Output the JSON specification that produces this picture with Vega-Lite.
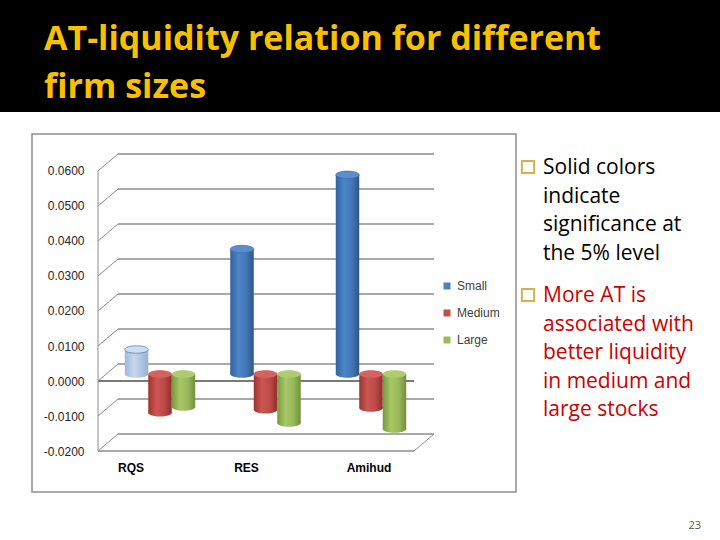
{
  "$schema": "https://vega.github.io/schema/vega-lite/v6.json",
  "background": "#ffffff",
  "padding": 0,
  "spacing": 21,
  "config": {"view": {"stroke": null}, "concat": {"spacing": 0}},
  "vconcat": [
    {
      "width": 720,
      "height": 112,
      "view": {"fill": "#000000", "stroke": null},
      "data": {"values": [{"title": "AT-liquidity relation for different\nfirm sizes"}]},
      "mark": {"type": "text", "align": "left", "baseline": "alphabetic", "lineBreak": "\n", "lineHeight": 48, "font": "Open Sans", "fontWeight": "bold", "fontSize": 34, "color": "#F8C000"},
      "encoding": {
        "text": {"field": "title"},
        "x": {"datum": 44, "type": "quantitative", "scale": {"domain": [0, 720], "nice": false, "zero": false}, "axis": null},
        "y": {"datum": 49.5, "type": "quantitative", "scale": {"domain": [0, 112], "nice": false, "zero": false, "reverse": true}, "axis": null}
      }
    },
    {
      "spacing": 0,
      "hconcat": [
        {
          "width": 31,
          "height": 358,
          "data": {"values": [{"blank": ""}]},
          "mark": {"type": "text"},
          "encoding": {"text": {"field": "blank"}}
        },
        {
          "width": 484,
          "height": 358,
          "view": {"stroke": "#8f8f8f", "strokeWidth": 1.5},
          "data": {"values": [
            {"measure": "RQS", "size": "Small", "value": 0.0070, "significant": false},
            {"measure": "RQS", "size": "Medium", "value": -0.0111, "significant": true},
            {"measure": "RQS", "size": "Large", "value": -0.0094, "significant": true},
            {"measure": "RES", "size": "Small", "value": 0.0357, "significant": true},
            {"measure": "RES", "size": "Medium", "value": -0.0102, "significant": true},
            {"measure": "RES", "size": "Large", "value": -0.0140, "significant": true},
            {"measure": "Amihud", "size": "Small", "value": 0.0569, "significant": true},
            {"measure": "Amihud", "size": "Medium", "value": -0.0097, "significant": true},
            {"measure": "Amihud", "size": "Large", "value": -0.0157, "significant": true}
          ]},
          "layer": [
            {
              "data": {"values": [
                {"tick": -0.02}, {"tick": -0.01}, {"tick": 0}, {"tick": 0.01}, {"tick": 0.02},
                {"tick": 0.03}, {"tick": 0.04}, {"tick": 0.05}, {"tick": 0.06}
              ]},
              "layer": [
                {
                  "mark": {"type": "rule", "yOffset": -17, "color": "#8c8c8c", "strokeWidth": 1.5},
                  "encoding": {
                    "x": {"datum": 0.063291, "type": "quantitative", "scale": {"domain": [-0.208861, 1.322785], "nice": false, "zero": false}, "axis": null},
                    "x2": {"datum": 1.063291},
                    "y": {"field": "tick", "type": "quantitative", "scale": {"domain": [-0.031714, 0.070571], "nice": false, "zero": false},
                      "axis": {"orient": "left", "offset": -52, "values": [-0.02, -0.01, 0, 0.01, 0.02, 0.03, 0.04, 0.05, 0.06], "format": ".4f", "labelExpr": "replace(datum.label, '\u2212', '-')", "domain": false, "ticks": false, "tickSize": 0, "labelPadding": 0, "grid": false, "title": null, "labelFont": "Liberation Sans", "labelFontSize": 12, "labelColor": "#262626"}}
                  }
                },
                {
                  "mark": {"type": "rule", "y2Offset": -17, "color": "#8c8c8c", "strokeWidth": 1},
                  "encoding": {
                    "x": {"datum": 0, "type": "quantitative", "axis": null},
                    "x2": {"datum": 0.063291},
                    "y": {"field": "tick", "type": "quantitative",
                      "axis": {"orient": "left", "offset": -52, "values": [-0.02, -0.01, 0, 0.01, 0.02, 0.03, 0.04, 0.05, 0.06], "format": ".4f", "labelExpr": "replace(datum.label, '\u2212', '-')", "domain": false, "ticks": false, "tickSize": 0, "labelPadding": 0, "grid": false, "title": null, "labelFont": "Liberation Sans", "labelFontSize": 12, "labelColor": "#262626"}},
                    "y2": {"field": "tick"}
                  }
                },
                {
                  "transform": [{"filter": "datum.tick === 0"}],
                  "mark": {"type": "rule", "color": "#7a7a7a", "strokeWidth": 2},
                  "encoding": {
                    "x": {"datum": 0, "type": "quantitative", "axis": null},
                    "x2": {"datum": 1},
                    "y": {"field": "tick", "type": "quantitative",
                      "axis": {"orient": "left", "offset": -52, "values": [-0.02, -0.01, 0, 0.01, 0.02, 0.03, 0.04, 0.05, 0.06], "format": ".4f", "labelExpr": "replace(datum.label, '\u2212', '-')", "domain": false, "ticks": false, "tickSize": 0, "labelPadding": 0, "grid": false, "title": null, "labelFont": "Liberation Sans", "labelFontSize": 12, "labelColor": "#262626"}}
                  }
                },
                {
                  "transform": [{"filter": "datum.tick === -0.02"}],
                  "mark": {"type": "rule", "color": "#8c8c8c", "strokeWidth": 1.5},
                  "encoding": {
                    "x": {"datum": 0, "type": "quantitative", "axis": null},
                    "x2": {"datum": 1},
                    "y": {"field": "tick", "type": "quantitative",
                      "axis": {"orient": "left", "offset": -52, "values": [-0.02, -0.01, 0, 0.01, 0.02, 0.03, 0.04, 0.05, 0.06], "format": ".4f", "labelExpr": "replace(datum.label, '\u2212', '-')", "domain": false, "ticks": false, "tickSize": 0, "labelPadding": 0, "grid": false, "title": null, "labelFont": "Liberation Sans", "labelFontSize": 12, "labelColor": "#262626"}}
                  }
                },
                {
                  "transform": [{"filter": "datum.tick === -0.02"}],
                  "mark": {"type": "rule", "color": "#8c8c8c", "strokeWidth": 1},
                  "encoding": {
                    "x": {"datum": 0, "type": "quantitative", "axis": null},
                    "y": {"field": "tick", "type": "quantitative",
                      "axis": {"orient": "left", "offset": -52, "values": [-0.02, -0.01, 0, 0.01, 0.02, 0.03, 0.04, 0.05, 0.06], "format": ".4f", "labelExpr": "replace(datum.label, '\u2212', '-')", "domain": false, "ticks": false, "tickSize": 0, "labelPadding": 0, "grid": false, "title": null, "labelFont": "Liberation Sans", "labelFontSize": 12, "labelColor": "#262626"}},
                    "y2": {"datum": 0.06}
                  }
                },
                {
                  "transform": [{"filter": "datum.tick === -0.02"}],
                  "mark": {"type": "rule", "y2Offset": -17, "color": "#8c8c8c", "strokeWidth": 1},
                  "encoding": {
                    "x": {"datum": 1, "type": "quantitative", "axis": null},
                    "x2": {"datum": 1.063291},
                    "y": {"field": "tick", "type": "quantitative",
                      "axis": {"orient": "left", "offset": -52, "values": [-0.02, -0.01, 0, 0.01, 0.02, 0.03, 0.04, 0.05, 0.06], "format": ".4f", "labelExpr": "replace(datum.label, '\u2212', '-')", "domain": false, "ticks": false, "tickSize": 0, "labelPadding": 0, "grid": false, "title": null, "labelFont": "Liberation Sans", "labelFontSize": 12, "labelColor": "#262626"}},
                    "y2": {"field": "tick"}
                  }
                }
              ]
            },
            {
              "encoding": {
                "x": {
                  "field": "measure", "type": "nominal",
                  "scale": {"domain": ["RQS", "RES", "Amihud"], "paddingInner": 0.332, "paddingOuter": 0.96, "align": 0.458},
                  "axis": {
                    "orient": "bottom", "offset": -30, "domain": false, "ticks": false, "tickSize": 0, "labelPadding": 0,
                    "title": null, "labelAngle": 0, "labelFont": "Liberation Sans", "labelFontWeight": "bold", "labelFontSize": 12, "labelColor": "#000000",
                    "labelOffset": {"condition": [{"test": "datum.value === 'RQS'", "value": -29}, {"test": "datum.value === 'RES'", "value": -19}], "value": -2}
                  }
                },
                "xOffset": {"field": "size", "type": "nominal", "scale": {"domain": ["Small", "Medium", "Large"], "paddingInner": 0, "paddingOuter": 0}}
              },
              "layer": [
                {
                  "mark": {"type": "bar", "yOffset": -7, "y2Offset": -7},
                  "encoding": {
                    "y": {
                      "field": "value", "type": "quantitative",
                      "scale": {"domain": [-0.031714, 0.070571], "nice": false, "zero": false},
                      "axis": {"orient": "left", "offset": -52, "values": [-0.02, -0.01, 0, 0.01, 0.02, 0.03, 0.04, 0.05, 0.06], "format": ".4f", "labelExpr": "replace(datum.label, '\u2212', '-')", "domain": false, "ticks": false, "tickSize": 0, "labelPadding": 0, "grid": false, "title": null, "labelFont": "Liberation Sans", "labelFontSize": 12, "labelColor": "#262626"}
                    },
                    "y2": {"datum": 0},
                    "color": {
                      "condition": [
                        {"test": "!datum.significant", "value": {"gradient": "linear", "x1": 0, "y1": 0, "x2": 1, "y2": 0, "stops": [{"offset": 0, "color": "#9fb8d8"}, {"offset": 0.4, "color": "#c6d7ec"}, {"offset": 1, "color": "#98b1d1"}]}},
                        {"test": "datum.size === 'Small'", "value": {"gradient": "linear", "x1": 0, "y1": 0, "x2": 1, "y2": 0, "stops": [{"offset": 0, "color": "#33629b"}, {"offset": 0.35, "color": "#4d86c8"}, {"offset": 0.7, "color": "#4275b4"}, {"offset": 1, "color": "#2c5788"}]}},
                        {"test": "datum.size === 'Medium'", "value": {"gradient": "linear", "x1": 0, "y1": 0, "x2": 1, "y2": 0, "stops": [{"offset": 0, "color": "#9a3532"}, {"offset": 0.35, "color": "#cc5552"}, {"offset": 0.7, "color": "#bb4a47"}, {"offset": 1, "color": "#8f2e2b"}]}}
                      ],
                      "value": {"gradient": "linear", "x1": 0, "y1": 0, "x2": 1, "y2": 0, "stops": [{"offset": 0, "color": "#7a9640"}, {"offset": 0.35, "color": "#a7c866"}, {"offset": 0.7, "color": "#98b75a"}, {"offset": 1, "color": "#728f3a"}]}
                    }
                  }
                },
                {
                  "transform": [{"filter": "datum.value < 0"}],
                  "mark": {"type": "point", "filled": true, "opacity": 1, "strokeWidth": 0, "size": 552, "yOffset": -7, "shape": "M-1,0A1,0.32,0,1,0,1,0A1,0.32,0,1,0,-1,0Z"},
                  "encoding": {
                    "y": {"field": "value", "type": "quantitative", "scale": {"domain": [-0.031714, 0.070571], "nice": false, "zero": false},
                      "axis": {"orient": "left", "offset": -52, "values": [-0.02, -0.01, 0, 0.01, 0.02, 0.03, 0.04, 0.05, 0.06], "format": ".4f", "labelExpr": "replace(datum.label, '\u2212', '-')", "domain": false, "ticks": false, "tickSize": 0, "labelPadding": 0, "grid": false, "title": null, "labelFont": "Liberation Sans", "labelFontSize": 12, "labelColor": "#262626"}},
                    "color": {
                      "condition": [
                        {"test": "datum.size === 'Medium'", "value": {"gradient": "linear", "x1": 0, "y1": 0, "x2": 1, "y2": 0, "stops": [{"offset": 0, "color": "#9a3532"}, {"offset": 0.35, "color": "#cc5552"}, {"offset": 0.7, "color": "#bb4a47"}, {"offset": 1, "color": "#8f2e2b"}]}}
                      ],
                      "value": {"gradient": "linear", "x1": 0, "y1": 0, "x2": 1, "y2": 0, "stops": [{"offset": 0, "color": "#7a9640"}, {"offset": 0.35, "color": "#a7c866"}, {"offset": 0.7, "color": "#98b75a"}, {"offset": 1, "color": "#728f3a"}]}
                    }
                  }
                },
                {
                  "transform": [{"filter": "datum.value > 0"}],
                  "mark": {"type": "point", "filled": true, "opacity": 1, "strokeWidth": 0, "size": 552, "yOffset": -7, "shape": "M-1,0A1,0.32,0,1,0,1,0A1,0.32,0,1,0,-1,0Z"},
                  "encoding": {
                    "y": {"datum": 0, "type": "quantitative", "scale": {"domain": [-0.031714, 0.070571], "nice": false, "zero": false},
                      "axis": {"orient": "left", "offset": -52, "values": [-0.02, -0.01, 0, 0.01, 0.02, 0.03, 0.04, 0.05, 0.06], "format": ".4f", "labelExpr": "replace(datum.label, '\u2212', '-')", "domain": false, "ticks": false, "tickSize": 0, "labelPadding": 0, "grid": false, "title": null, "labelFont": "Liberation Sans", "labelFontSize": 12, "labelColor": "#262626"}},
                    "color": {
                      "condition": [
                        {"test": "!datum.significant", "value": {"gradient": "linear", "x1": 0, "y1": 0, "x2": 1, "y2": 0, "stops": [{"offset": 0, "color": "#9fb8d8"}, {"offset": 0.4, "color": "#c6d7ec"}, {"offset": 1, "color": "#98b1d1"}]}}
                      ],
                      "value": {"gradient": "linear", "x1": 0, "y1": 0, "x2": 1, "y2": 0, "stops": [{"offset": 0, "color": "#33629b"}, {"offset": 0.35, "color": "#4d86c8"}, {"offset": 0.7, "color": "#4275b4"}, {"offset": 1, "color": "#2c5788"}]}
                    }
                  }
                },
                {
                  "transform": [{"filter": "datum.value > 0"}],
                  "mark": {"type": "point", "filled": true, "opacity": 1, "stroke": "#3a6aa6", "strokeWidth": 0.6, "size": 552, "yOffset": -7, "shape": "M-1,0A1,0.32,0,1,0,1,0A1,0.32,0,1,0,-1,0Z"},
                  "encoding": {
                    "y": {"field": "value", "type": "quantitative", "scale": {"domain": [-0.031714, 0.070571], "nice": false, "zero": false},
                      "axis": {"orient": "left", "offset": -52, "values": [-0.02, -0.01, 0, 0.01, 0.02, 0.03, 0.04, 0.05, 0.06], "format": ".4f", "labelExpr": "replace(datum.label, '\u2212', '-')", "domain": false, "ticks": false, "tickSize": 0, "labelPadding": 0, "grid": false, "title": null, "labelFont": "Liberation Sans", "labelFontSize": 12, "labelColor": "#262626"}},
                    "color": {"condition": {"test": "!datum.significant", "value": "#cddcee"}, "value": "#5a8dcb"}
                  }
                },
                {
                  "transform": [{"filter": "datum.value < 0"}],
                  "mark": {"type": "point", "filled": true, "opacity": 1, "strokeWidth": 0, "size": 552, "yOffset": -7, "shape": "M-1,0A1,0.32,0,1,0,1,0A1,0.32,0,1,0,-1,0Z"},
                  "encoding": {
                    "y": {"datum": 0, "type": "quantitative", "scale": {"domain": [-0.031714, 0.070571], "nice": false, "zero": false},
                      "axis": {"orient": "left", "offset": -52, "values": [-0.02, -0.01, 0, 0.01, 0.02, 0.03, 0.04, 0.05, 0.06], "format": ".4f", "labelExpr": "replace(datum.label, '\u2212', '-')", "domain": false, "ticks": false, "tickSize": 0, "labelPadding": 0, "grid": false, "title": null, "labelFont": "Liberation Sans", "labelFontSize": 12, "labelColor": "#262626"}},
                    "color": {"condition": {"test": "datum.size === 'Medium'", "value": "#d6625f"}, "value": "#afcc70"}
                  }
                },
                {
                  "mark": {"type": "square", "opacity": 0},
                  "encoding": {
                    "y": {"field": "value", "type": "quantitative", "scale": {"domain": [-0.031714, 0.070571], "nice": false, "zero": false},
                      "axis": {"orient": "left", "offset": -52, "values": [-0.02, -0.01, 0, 0.01, 0.02, 0.03, 0.04, 0.05, 0.06], "format": ".4f", "labelExpr": "replace(datum.label, '\u2212', '-')", "domain": false, "ticks": false, "tickSize": 0, "labelPadding": 0, "grid": false, "title": null, "labelFont": "Liberation Sans", "labelFontSize": 12, "labelColor": "#262626"}},
                    "color": {
                      "field": "size", "type": "nominal",
                      "scale": {"domain": ["Small", "Medium", "Large"], "range": ["#4f81bd", "#c0504d", "#9bbb59"]},
                      "legend": {
                        "orient": "none", "legendX": 441, "legendY": 280, "title": null, "padding": 0,
                        "symbolType": "square", "symbolSize": 49, "symbolOpacity": 1, "symbolStrokeWidth": 0,
                        "labelFont": "Liberation Sans", "labelFontSize": 12, "labelColor": "#404040", "labelOffset": 4, "rowPadding": 15
                      }
                    }
                  }
                }
              ]
            }
          ],
          "resolve": {"scale": {"x": "independent"}}
        },
        {
          "width": 205,
          "height": 407,
          "data": {"values": [
            {"bullet": 1, "text": "Solid colors\nindicate\nsignificance at\nthe 5% level"},
            {"bullet": 2, "text": "More AT is\nassociated with\nbetter liquidity\nin medium and\nlarge stocks"}
          ]},
          "layer": [
            {
              "mark": {"type": "point", "shape": "square", "filled": false, "size": 150, "strokeWidth": 2, "color": "#d4b24a", "opacity": 1, "yOffset": -7},
              "encoding": {
                "x": {"datum": 8, "type": "quantitative", "scale": {"domain": [0, 205], "nice": false, "zero": false}, "axis": null},
                "y": {"field": "bullet", "type": "quantitative", "scale": {"domain": [0.6875, 3.8672], "nice": false, "zero": false, "reverse": true}, "axis": null}
              }
            },
            {
              "mark": {"type": "text", "align": "left", "baseline": "alphabetic", "lineBreak": "\n", "lineHeight": 28.6, "font": "Open Sans", "fontSize": 21},
              "encoding": {
                "x": {"datum": 23, "type": "quantitative"},
                "y": {"field": "bullet", "type": "quantitative"},
                "text": {"field": "text"},
                "color": {"condition": {"test": "datum.bullet === 2", "value": "#cc0000"}, "value": "#000000"}
              }
            },
            {
              "data": {"values": [{"page": "23"}]},
              "mark": {"type": "text", "align": "right", "baseline": "alphabetic", "font": "Open Sans", "fontSize": 11, "color": "#555555"},
              "encoding": {
                "x": {"datum": 181, "type": "quantitative"},
                "y": {"datum": 3.7734, "type": "quantitative"},
                "text": {"field": "page"}
              }
            }
          ]
        }
      ]
    }
  ]
}
